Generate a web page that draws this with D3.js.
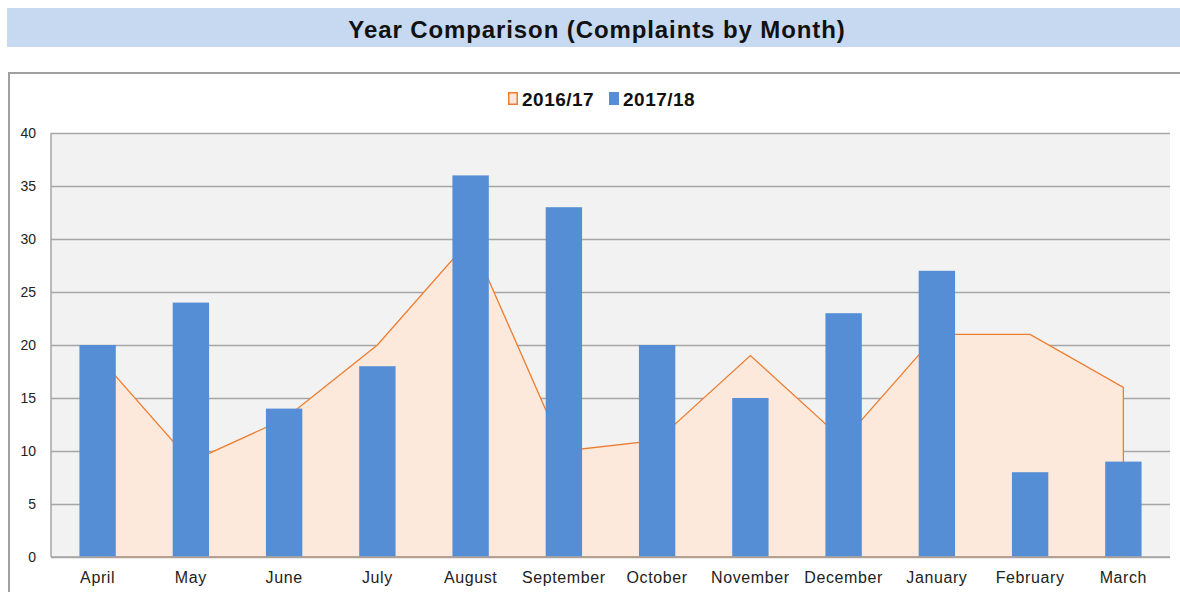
<html>
<head>
<script src="https://cdn.jsdelivr.net/npm/d3@7"></script>
<style>
  body { margin: 0; background: #fff; }
  text { font-family: Arial, "Liberation Sans", sans-serif; }
</style>
</head>
<body>
<script>

var width = 1180;
var height = 592;

// data
var months = ['April', 'May', 'June', 'July', 'August', 'September', 'October',
  'November', 'December', 'January', 'February', 'March'];
var prevYear = [19, 9, 13, 20, 30, 10, 11, 19, 11, 21, 21, 16];   // 2016/17
var thisYear = [20, 24, 14, 18, 36, 33, 20, 15, 23, 27, 8, 9];    // 2017/18
var yTicks = [0, 5, 10, 15, 20, 25, 30, 35, 40];
var seriesNames = ['2016/17', '2017/18'];

var svg = d3.select('body').append('svg')
  .attr('width', width)
  .attr('height', height);

// title band
svg.append('rect')
  .attr('x', 7).attr('y', 8)
  .attr('width', width - 7).attr('height', 39)
  .style('fill', '#c6d9f1');
svg.append('text')
  .attr('x', 597).attr('y', 38)
  .attr('text-anchor', 'middle')
  .style('font-size', '24px')
  .style('letter-spacing', '0.9px')
  .style('font-weight', 'bold')
  .style('fill', '#111')
  .text('Year Comparison (Complaints by Month)');

// chart frame
svg.append('rect')
  .attr('x', 9).attr('y', 73)
  .attr('width', width + 10).attr('height', 600)
  .style('fill', '#fff')
  .style('stroke', '#a0a0a0')
  .style('stroke-width', 2);

var plot = {left: 51, right: 1170, top: 133, bottom: 557};

var x = d3.scaleBand()
  .domain(months)
  .range([plot.left, plot.right])
  .paddingInner(0.61)
  .paddingOuter(0.305);
var xp = d3.scalePoint()
  .domain(months)
  .range([plot.left, plot.right])
  .padding(0.5);
var y = d3.scaleLinear()
  .domain([0, 40])
  .range([plot.bottom, plot.top]);

svg.append('rect')
  .attr('x', plot.left).attr('y', plot.top)
  .attr('width', plot.right - plot.left)
  .attr('height', plot.bottom - plot.top)
  .style('fill', '#f2f2f2');

// gridlines + y labels
var yAxis = svg.append('g')
  .attr('transform', 'translate(' + plot.left + ',0)')
  .call(d3.axisLeft(y).tickValues(yTicks).tickSize(-(plot.right - plot.left)).tickPadding(15));
yAxis.select('.domain').remove();
yAxis.selectAll('.tick line')
  .style('stroke', '#a6a6a6')
  .style('stroke-width', 1.5);
yAxis.selectAll('.tick text')
  .style('font-size', '14px')
  .style('fill', '#222')
  .style('font-family', 'Arial, sans-serif');

// 2016/17 area
var area = d3.area()
  .x(function (d, i) { return xp(months[i]); })
  .y0(y(0))
  .y1(function (d) { return y(d); });
svg.append('path')
  .datum(prevYear)
  .attr('d', function (d) { return area(d) + 'Z'; })
  .style('fill', '#fce9db')
  .style('stroke', '#ed7d31')
  .style('stroke-width', 1.3);

// 2017/18 bars
svg.append('g').selectAll('rect')
  .data(thisYear)
  .enter()
  .append('rect')
  .attr('x', function (d, i) { return x(months[i]); })
  .attr('y', function (d) { return y(d); })
  .attr('width', x.bandwidth())
  .attr('height', function (d) { return y(0) - y(d); })
  .style('fill', '#558ed5');

// axis lines
svg.append('line')
  .attr('x1', plot.left).attr('x2', plot.left)
  .attr('y1', plot.top).attr('y2', plot.bottom)
  .style('stroke', '#a6a6a6').style('stroke-width', 1.5);
svg.append('line')
  .attr('x1', plot.left).attr('x2', plot.right)
  .attr('y1', plot.bottom).attr('y2', plot.bottom)
  .style('stroke', '#a6a6a6').style('stroke-width', 1.5);

// month labels
svg.append('g').selectAll('text')
  .data(months)
  .enter()
  .append('text')
  .attr('x', function (d) { return xp(d); })
  .attr('y', 583)
  .attr('text-anchor', 'middle')
  .style('font-size', '16px')
  .style('letter-spacing', '0.6px')
  .style('fill', '#222')
  .text(function (d) { return d; });

// legend
var legend = svg.append('g');
var legendX = [508, 609];
legend.append('rect')
  .attr('x', legendX[0] + 0.75).attr('y', 92.75)
  .attr('width', 8.5).attr('height', 11.5)
  .style('fill', '#fce9db')
  .style('stroke', '#ed7d31')
  .style('stroke-width', 1.5);
legend.append('rect')
  .attr('x', legendX[1]).attr('y', 92)
  .attr('width', 10).attr('height', 13)
  .style('fill', '#558ed5');
legend.selectAll('text')
  .data(seriesNames)
  .enter()
  .append('text')
  .attr('x', function (d, i) { return legendX[i] + 14; })
  .attr('y', 106)
  .style('font-size', '19px')
  .style('letter-spacing', '0.5px')
  .style('font-weight', 'bold')
  .style('fill', '#111')
  .text(function (d) { return d; });

</script>
</body>
</html>
